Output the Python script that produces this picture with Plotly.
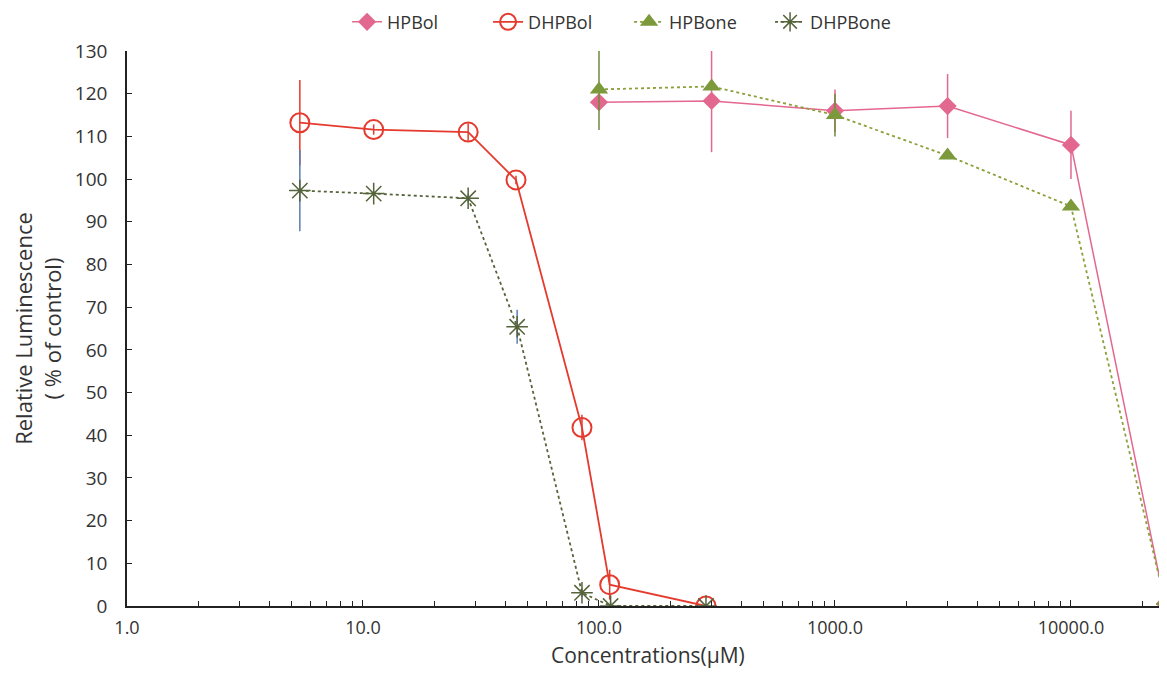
import plotly.graph_objects as go

# ---- data ----
hpbol_x = [100, 300, 1000, 3000, 10000, 25000]
hpbol_y = [118, 118.3, 116, 117.1, 108, 0.5]
hpbol_err = [0, 12, 5, 7.5, 8, 0]

dhpbol_x = [5.4, 11.1, 27.9, 44.5, 84.7, 111, 284]
dhpbol_y = [113.2, 111.6, 111, 99.8, 41.8, 5.0, 0]
dhpbol_err = [10, 1.2, 2, 1, 3, 3.5, 0]

hpbone_x = [100, 300, 1000, 3000, 10000, 25000]
hpbone_y = [121, 121.7, 115, 105.5, 93.6, 1.2]
hpbone_err = [9.5, 0, 5, 0, 0, 0]

dhpbone_x = [5.4, 11.1, 27.9, 45, 84.7, 112, 284]
dhpbone_y = [97.3, 96.6, 95.5, 65.4, 3.1, 0, 0]
dhpbone_err = [9.5, 0.5, 1, 4, 1, 1, 0]

x_tickvals = [1, 10, 100, 1000, 10000]
x_ticktext = ["1.0", "10.0", "100.0", "1000.0", "10000.0"]
y_tickvals = list(range(0, 131, 10))
x_title = "Concentrations(μM)"
y_title = "Relative Luminescence<br>( % of control)"

FONT = "Open Sans"

fig = go.Figure()

fig.add_trace(go.Scatter(
    x=hpbol_x, y=hpbol_y, name="HPBol", mode="lines+markers",
    line=dict(color="#e3688f", width=1.5),
    marker=dict(symbol="diamond", size=14, color="#e3688f"),
    error_y=dict(type="data", array=hpbol_err, color="#e3688f", thickness=1.5, width=0),
))
fig.add_trace(go.Scatter(
    x=dhpbol_x, y=dhpbol_y, name="DHPBol", mode="lines+markers",
    line=dict(color="#e53a2e", width=1.8),
    marker=dict(symbol="circle-open", size=19, color="#e53a2e", line=dict(width=2)),
    error_y=dict(type="data", array=dhpbol_err, color="#e53a2e", thickness=1.5, width=0),
))
fig.add_trace(go.Scatter(
    x=hpbone_x, y=hpbone_y, name="HPBone", mode="lines+markers",
    line=dict(color="#8aa03a", width=1.8, dash="dot"),
    marker=dict(symbol="triangle-up", size=16, color="#7c9a3c"),
    error_y=dict(type="data", array=hpbone_err, color="#6f8a3a", thickness=1.5, width=0),
))
fig.add_trace(go.Scatter(
    x=dhpbone_x, y=dhpbone_y, name="DHPBone", mode="lines+markers",
    line=dict(color="#55633a", width=1.8, dash="dot"),
    marker=dict(symbol="asterisk-open", size=18, color="#55633a", line=dict(width=1.5, color="#55633a")),
    error_y=dict(type="data", array=dhpbone_err, color="#5a7fb0", thickness=1.5, width=0),
))

fig.update_layout(
    width=1151, height=675,
    margin=dict(l=119, r=0, t=43, b=77, autoexpand=False),
    paper_bgcolor="white", plot_bgcolor="white",
    font=dict(family=FONT, size=19, color="#333333"),
    showlegend=True,
    legend=dict(orientation="h", x=0.4865, xanchor="center", y=1.052, yanchor="middle",
                font=dict(size=18), entrywidth=96, entrywidthmode="pixels",
                bgcolor="rgba(0,0,0,0)"),
    annotations=[dict(text=x_title, xref="paper", yref="paper", x=0.505, y=-0.0883,
                      xanchor="center", yanchor="middle", showarrow=False,
                      font=dict(size=21, color="#333333"))],
)

fig.update_xaxes(
    type="log", range=[0, 4.373],
    tickvals=x_tickvals, ticktext=x_ticktext,
    ticks="inside", ticklen=6, tickcolor="#222222",
    showline=True, linecolor="#222222", linewidth=2,
    showgrid=False, zeroline=False,
    minor=dict(ticks="inside", ticklen=5, tickcolor="#222222", dtick="D1", showgrid=False),
    tickfont=dict(size=18), ticklabelstandoff=4,
)
fig.update_yaxes(
    range=[0, 130], tickvals=y_tickvals,
    ticks="inside", ticklen=5, tickcolor="#222222",
    showline=True, linecolor="#222222", linewidth=1.5,
    showgrid=False, zeroline=False,
    tickfont=dict(size=19), ticklabelstandoff=14,
    title=dict(text=y_title, font=dict(size=22), standoff=12),
)

fig.write_html("out.html")
